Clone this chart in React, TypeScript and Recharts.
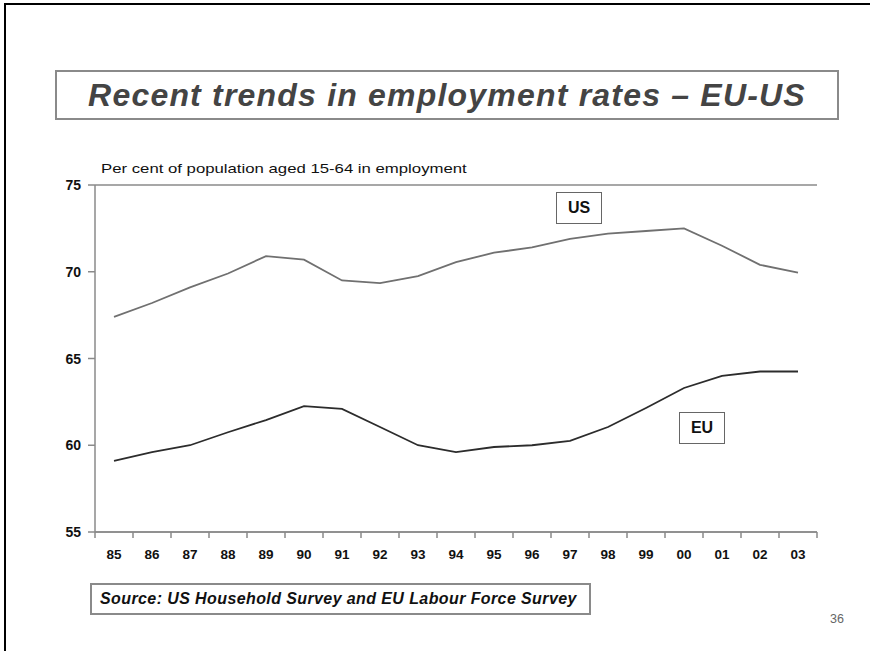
import React from 'react';
import { LineChart, Line, XAxis, YAxis, CartesianGrid } from 'recharts';

const years = ['85', '86', '87', '88', '89', '90', '91', '92', '93', '94', '95', '96', '97', '98', '99', '00', '01', '02', '03'];
const usRates = [67.4, 68.2, 69.1, 69.9, 70.9, 70.7, 69.5, 69.35, 69.75, 70.55, 71.1, 71.4, 71.9, 72.2, 72.35, 72.5, 71.5, 70.4, 69.95];
const euRates = [59.1, 59.6, 60.0, 60.75, 61.45, 62.25, 62.1, 61.05, 60.0, 59.6, 59.9, 60.0, 60.25, 61.05, 62.15, 63.3, 64.0, 64.25, 64.25];
const yTicks = [55, 60, 65, 70, 75];

const chartData = years.map((y, i) => ({ year: y, us: usRates[i], eu: euRates[i] }));

const FONT = '"Liberation Sans", Arial, sans-serif';
const AXIS_GRAY = '#8a8a8a';

// category label plus a tick mark on the boundary between categories
const YearTick = (props: any) => {
  const { x, y, payload, index } = props;
  const half = 19;
  return (
    <g>
      <line x1={x - half} y1={y - 8} x2={x - half} y2={y - 2} stroke={AXIS_GRAY} strokeWidth={1.5} />
      {index === years.length - 1 && (
        <line x1={x + half} y1={y - 8} x2={x + half} y2={y - 2} stroke={AXIS_GRAY} strokeWidth={1.5} />
      )}
      <text x={x} y={y + 19} textAnchor="middle" fontFamily={FONT} fontWeight="bold" fontSize={13.5} fill="#111">
        {payload.value}
      </text>
    </g>
  );
};

const RateTick = (props: any) => {
  const { x, y, payload } = props;
  return (
    <text x={x - 5} y={y + 5} textAnchor="end" fontFamily={FONT} fontWeight="bold" fontSize={14} fill="#111">
      {payload.value}
    </text>
  );
};

const labelBox: React.CSSProperties = {
  position: 'absolute',
  width: 44,
  height: 30,
  border: '1.5px solid #666',
  background: '#fff',
  display: 'flex',
  alignItems: 'center',
  justifyContent: 'center',
  fontWeight: 'bold',
  fontSize: 16,
  color: '#111',
};

export default function App() {
  return (
    <div style={{ position: 'absolute', left: 0, top: 0, width: 870, height: 651, background: '#fff', fontFamily: FONT, overflow: 'hidden' }}>
      {/* slide frame */}
      <div style={{ position: 'absolute', left: 4, top: 3, width: 870, height: 660, borderLeft: '2px solid #000', borderTop: '2px solid #000' }} />

      {/* title box */}
      <div style={{ position: 'absolute', left: 55, top: 70, width: 780, height: 46, border: '2px solid #8a8a8a', display: 'flex', alignItems: 'center', justifyContent: 'center' }}>
        <span style={{ fontStyle: 'italic', fontWeight: 'bold', fontSize: 32, color: '#444', letterSpacing: 1.2 }}>
          Recent trends in employment rates – EU-US
        </span>
      </div>

      <div style={{ position: 'absolute', left: 101, top: 161, fontSize: 13.5, color: '#111', whiteSpace: 'nowrap', transform: 'scaleX(1.24)', transformOrigin: 'left center' }}>
        Per cent of population aged 15-64 in employment
      </div>

      <div style={{ position: 'absolute', left: 0, top: 0 }}>
        <LineChart width={870} height={651} data={chartData} margin={{ top: 185, right: 53, left: 55, bottom: 89 }}>
          <CartesianGrid vertical={false} stroke={AXIS_GRAY} strokeWidth={1.5} />
          <XAxis
            dataKey="year"
            padding={{ left: 19, right: 19 }}
            height={30}
            stroke={AXIS_GRAY}
            strokeWidth={1.5}
            tickLine={false}
            tick={<YearTick />}
            interval={0}
          />
          <YAxis
            yAxisId="left"
            domain={[55, 75]}
            ticks={yTicks}
            width={40}
            stroke={AXIS_GRAY}
            strokeWidth={1.5}
            tickSize={7}
            tickLine={{ stroke: AXIS_GRAY, strokeWidth: 1.5 }}
            tick={<RateTick />}
            allowDataOverflow
          />
          <YAxis
            yAxisId="right"
            orientation="right"
            domain={[55, 75]}
            width={0}
            stroke={AXIS_GRAY}
            strokeWidth={1.5}
            tick={false}
            tickLine={false}
          />
          <Line yAxisId="left" type="linear" dataKey="us" stroke="#707070" strokeWidth={1.8} dot={false} isAnimationActive={false} />
          <Line yAxisId="left" type="linear" dataKey="eu" stroke="#2c2c2c" strokeWidth={1.8} dot={false} isAnimationActive={false} />
        </LineChart>
      </div>

      {/* series labels */}
      <div style={{ ...labelBox, left: 556, top: 192 }}>US</div>
      <div style={{ ...labelBox, left: 679, top: 412 }}>EU</div>

      {/* source box */}
      <div style={{ position: 'absolute', left: 90, top: 583, width: 489, height: 28, border: '2px solid #8a8a8a', display: 'flex', alignItems: 'center', paddingLeft: 8, boxSizing: 'content-box' }}>
        <span style={{ fontStyle: 'italic', fontWeight: 'bold', fontSize: 16, color: '#111', letterSpacing: 0.4 }}>
          Source: US Household Survey and EU Labour Force Survey
        </span>
      </div>

      <div style={{ position: 'absolute', left: 830, top: 612, fontSize: 12.5, color: '#666' }}>36</div>
    </div>
  );
}
